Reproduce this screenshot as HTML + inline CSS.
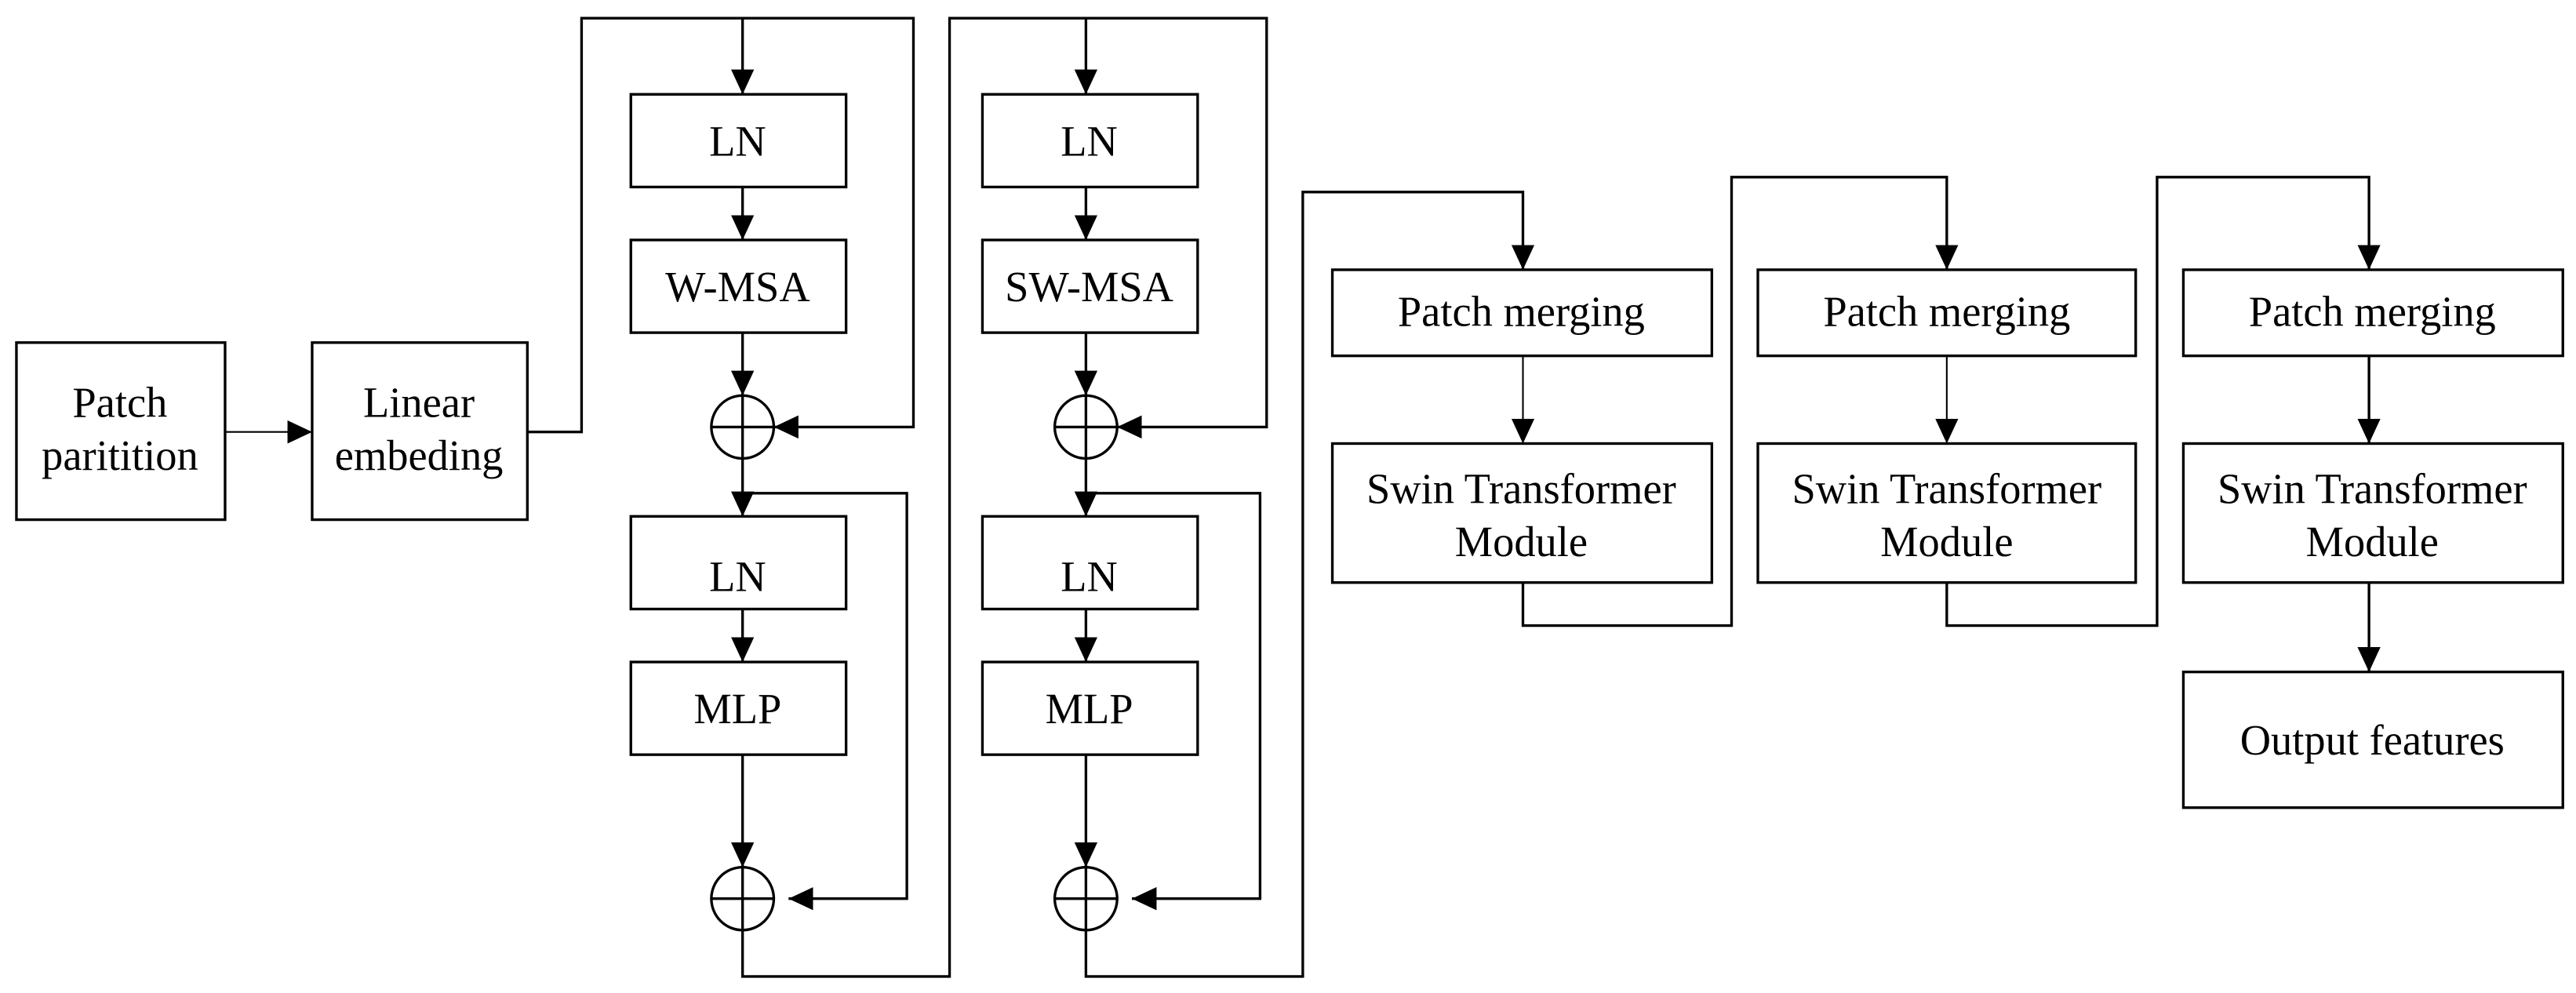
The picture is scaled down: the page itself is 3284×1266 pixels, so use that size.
<!DOCTYPE html>
<html><head><meta charset="utf-8"><style>
html,body{margin:0;padding:0;background:#fff;}
svg{display:block;}
text{font-family:"Liberation Serif",serif;font-size:26px;fill:#000;text-anchor:middle;}
</style></head><body>
<svg width="3284" height="1266" viewBox="0 0 1568 600" preserveAspectRatio="none" xmlns="http://www.w3.org/2000/svg">
<defs>
<marker id="a" markerWidth="15" markerHeight="14" refX="15" refY="7" orient="auto" markerUnits="userSpaceOnUse"><path d="M0,0 L15,7 L0,14 z" fill="#000"/></marker>
</defs>
<g fill="#fff" stroke="#000" stroke-width="1.6">
<rect x="10" y="207" width="127" height="107"/>
<rect x="190" y="207" width="131" height="107"/>
<rect x="384" y="57" width="131" height="56"/>
<rect x="384" y="145" width="131" height="56"/>
<rect x="384" y="312" width="131" height="56"/>
<rect x="384" y="400" width="131" height="56"/>
<rect x="598" y="57" width="131" height="56"/>
<rect x="598" y="145" width="131" height="56"/>
<rect x="598" y="312" width="131" height="56"/>
<rect x="598" y="400" width="131" height="56"/>
<rect x="811" y="163" width="231" height="52"/>
<rect x="811" y="268" width="231" height="84"/>
<rect x="1070" y="163" width="230" height="52"/>
<rect x="1070" y="268" width="230" height="84"/>
<rect x="1329" y="163" width="231" height="52"/>
<rect x="1329" y="268" width="231" height="84"/>
<rect x="1329" y="406" width="231" height="82"/>
<ellipse cx="452" cy="258" rx="19" ry="19"/>
<ellipse cx="452" cy="543" rx="19" ry="19"/>
<ellipse cx="661" cy="258" rx="19" ry="19"/>
<ellipse cx="661" cy="543" rx="19" ry="19"/>
</g>
<g fill="none" stroke="#000" stroke-width="1.6">
<path d="M433,258 H471 M452,239 V277 M433,543 H471 M452,524 V562 M642,258 H680 M661,239 V277 M642,543 H680 M661,524 V562"/>
</g>
<g fill="none" stroke="#000" stroke-width="1.6" marker-end="url(#a)">
<path d="M137,261 H190" stroke-width="1"/>
<path d="M321,261 H354 V11 H556 V258 H471"/>
<path d="M452,11 V57"/>
<path d="M452,113 V145"/>
<path d="M452,201 V239"/>
<path d="M452,277 V312"/>
<path d="M452,298 H552 V543 H480"/>
<path d="M452,368 V400"/>
<path d="M452,456 V524"/>
<path d="M452,562 V590 H578 V11 H771 V258 H680"/>
<path d="M661,11 V57"/>
<path d="M661,113 V145"/>
<path d="M661,201 V239"/>
<path d="M661,277 V312"/>
<path d="M661,298 H767 V543 H689"/>
<path d="M661,368 V400"/>
<path d="M661,456 V524"/>
<path d="M661,562 V590 H793 V116 H927 V163"/>
<path d="M927,215 V268" stroke-width="1"/>
<path d="M927,352 V378 H1054 V107 H1185 V163"/>
<path d="M1185,215 V268" stroke-width="1"/>
<path d="M1185,352 V378 H1313 V107 H1442 V163"/>
<path d="M1442,215 V268"/>
<path d="M1442,352 V406"/>
</g>
<text x="73" y="252">Patch</text>
<text x="73" y="284">paritition</text>
<text x="255" y="252">Linear</text>
<text x="255" y="284">embeding</text>
<text x="449" y="94">LN</text>
<text x="449" y="182">W-MSA</text>
<text x="449" y="357">LN</text>
<text x="449" y="437">MLP</text>
<text x="663" y="94">LN</text>
<text x="663" y="182">SW-MSA</text>
<text x="663" y="357">LN</text>
<text x="663" y="437">MLP</text>
<text x="926" y="197">Patch merging</text>
<text x="926" y="304">Swin Transformer</text>
<text x="926" y="336">Module</text>
<text x="1185" y="197">Patch merging</text>
<text x="1185" y="304">Swin Transformer</text>
<text x="1185" y="336">Module</text>
<text x="1444" y="197">Patch merging</text>
<text x="1444" y="304">Swin Transformer</text>
<text x="1444" y="336">Module</text>
<text x="1444" y="456">Output features</text>
</svg>
</body></html>
